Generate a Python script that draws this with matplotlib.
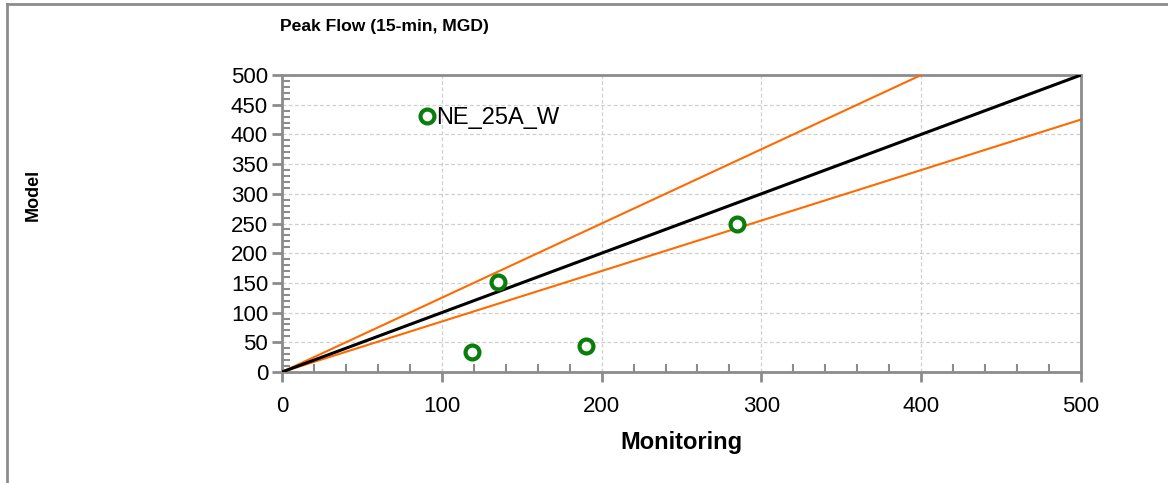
import matplotlib.pyplot as plt
import matplotlib.ticker as ticker
from matplotlib.lines import Line2D
import numpy as np

# observed vs modelled peak flow
monitoring = [119, 135, 190, 285]
model = [33, 151, 44, 249]
series_name = "NE_25A_W"

# reference lines: 1:1 and the +25% / -15% bands
ref_x = [0, 500]
band_upper = 1.25
band_lower = 0.85

axis_max = 500
x_ticks = [0, 100, 200, 300, 400, 500]
y_ticks = [0, 50, 100, 150, 200, 250, 300, 350, 400, 450, 500]

plt.rcParams['font.family'] = ['Liberation Sans Narrow', 'Liberation Sans', 'DejaVu Sans']

fig = plt.figure(figsize=(11.68, 4.83), dpi=100)
ax = fig.add_axes([282 / 1168, 1 - 372 / 483, (1081 - 282) / 1168, (372 - 75) / 483])

# thin frame around the figure (left and top only, like the source)
fig.add_artist(Line2D([7 / 1168, 7 / 1168], [0, 1 - 4 / 483], transform=fig.transFigure,
                      color='#8c8c8c', lw=2))
fig.add_artist(Line2D([7 / 1168, 1], [1 - 4 / 483, 1 - 4 / 483], transform=fig.transFigure,
                      color='#8c8c8c', lw=2))

ax.plot(ref_x, [v * band_upper for v in ref_x], color='#ff6a00', lw=1.5, zorder=3)
ax.plot(ref_x, [v * band_lower for v in ref_x], color='#ff6a00', lw=1.5, zorder=3)
ax.plot(ref_x, ref_x, color='black', lw=2.2, zorder=4)

ax.plot(monitoring, model, linestyle='none', marker='o', markersize=10,
        markerfacecolor='white', markeredgecolor='#0a7d0a', markeredgewidth=3,
        label=series_name, zorder=5, clip_on=False)

ax.set_xlim(0, axis_max)
ax.set_ylim(0, axis_max)
ax.set_xticks(x_ticks)
ax.set_yticks(y_ticks)
ax.xaxis.set_minor_locator(ticker.MultipleLocator(20))
ax.yaxis.set_minor_locator(ticker.MultipleLocator(10))

for s in ax.spines.values():
    s.set_color('#8c8c8c')
    s.set_linewidth(2)

ax.tick_params(axis='both', which='major', labelsize=16, color='#8c8c8c', width=2, length=7,
               direction='out')
ax.tick_params(axis='x', which='major', pad=10)
ax.tick_params(axis='y', which='major', pad=3)
ax.tick_params(axis='both', which='minor', color='#8c8c8c', width=1.5, length=6, direction='in')

ax.grid(True, which='major', color='#cfcfcf', linestyle=(0, (3, 2)), lw=0.9)
ax.set_axisbelow(True)

ax.set_xlabel("Monitoring", fontsize=17, fontweight='bold', family=['Liberation Sans', 'DejaVu Sans'],
              labelpad=10)
fig.text(33 / 1168, 1 - 195 / 483, "Model", rotation=90, ha='center', va='center',
         fontsize=13, fontweight='bold', family=['Liberation Sans', 'DejaVu Sans'])
fig.text(280 / 1168, 1 - 26 / 483, "Peak Flow (15-min, MGD)", ha='left', va='center',
         fontsize=12.6, fontweight='bold', family=['Liberation Sans Narrow', 'Liberation Sans'])

ax.legend(loc='center left', bbox_to_anchor=(0.172, 0.855), frameon=False, fontsize=17,
          handlelength=0.6, handletextpad=0.1, borderpad=0, borderaxespad=0)

fig.savefig("out.png", dpi=100)
